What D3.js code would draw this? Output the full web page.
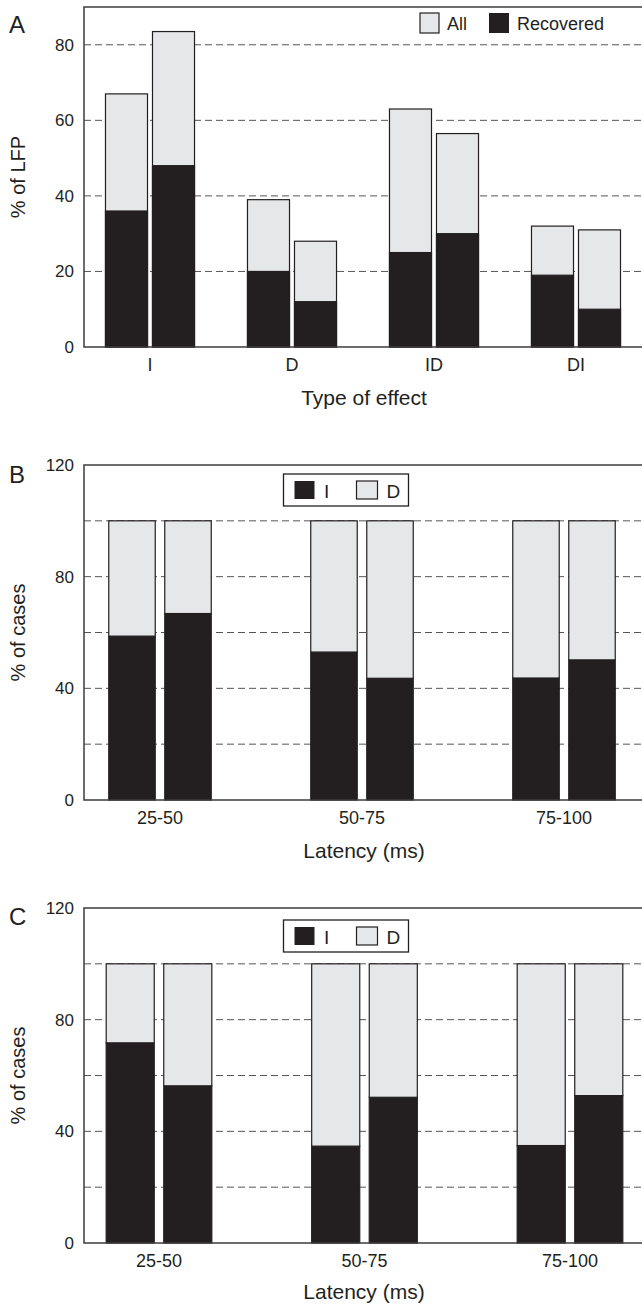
<!DOCTYPE html>
<html>
<head>
<meta charset="utf-8">
<script src="https://cdn.jsdelivr.net/npm/d3@7"></script>
<style>
  body { margin: 0; background: #fff; }
  text { font-family: "Liberation Sans", Arial, sans-serif; fill: #231f20; }
</style>
</head>
<body>
<div id="chart"></div>
<script>
// panel A: two bars per effect type
const effectTypes = ["I", "D", "ID", "DI"];
const lfpAll = [67, 83.5, 39, 28, 63, 56.5, 32, 31];
const lfpRecovered = [36, 48, 20, 12, 25, 30, 19, 10];

// panels B and C: two bars per latency bin
const latencyBins = ["25-50", "50-75", "75-100"];
const casesB_I = [58.7, 66.8, 53, 43.6, 43.7, 50.2];
const casesB_D = [41.3, 33.2, 47, 56.4, 56.3, 49.8];
const casesC_I = [71.7, 56.3, 34.7, 52.2, 34.9, 52.8];
const casesC_D = [28.3, 43.7, 65.3, 47.8, 65.1, 47.2];

const ticksA = [0, 20, 40, 60, 80];
const gridA = [20, 40, 60, 80];
const ticksBC = [0, 40, 80, 120];
const gridBC = [20, 40, 60, 80, 100];

const W = 642, H = 1305;
const DARK = "#231f20", GREY = "#e6e7e8", LINE = "#3c3c3c";
const LEFT = 84;

const svg = d3.select("#chart").append("svg")
  .attr("width", W).attr("height", H);

function drawPanel(p) {
  const g = svg.append("g");

  const y = d3.scaleLinear().domain([0, p.yMax]).range([p.bottom, p.top]);
  const x0 = d3.scaleBand().domain(p.cats).range(p.xRange)
    .paddingInner(p.padIn).paddingOuter(p.padIn / 2);
  const x1 = d3.scaleBand().domain([0, 1]).range([0, x0.bandwidth()])
    .paddingInner(p.padSub);

  // dashed gridlines
  g.append("g")
    .selectAll("line").data(p.grid).join("line")
    .attr("x1", LEFT).attr("x2", W + 5)
    .attr("y1", d => y(d)).attr("y2", d => y(d))
    .attr("stroke", "#555").attr("stroke-width", 1)
    .attr("stroke-dasharray", "7,4");

  // bars: lower segment and upper segment
  const bx = i => x0(p.cats[Math.floor(i / 2)]) + x1(i % 2);
  p.segments.forEach(s => {
    g.append("g")
      .selectAll("rect").data(s.lo).join("rect")
      .attr("x", (d, i) => bx(i))
      .attr("width", x1.bandwidth())
      .attr("y", (d, i) => y(d + s.hi[i]))
      .attr("height", (d, i) => y(d) - y(d + s.hi[i]))
      .attr("fill", s.color)
      .attr("stroke", DARK).attr("stroke-width", 1.2);
  });

  // frame (right side is cut off in the original)
  g.append("path")
    .attr("d", `M${W + 5},${p.top}H${LEFT}V${p.bottom}H${W + 5}`)
    .attr("fill", "none").attr("stroke", LINE).attr("stroke-width", 1.5);

  // y tick labels
  g.append("g")
    .attr("transform", `translate(${LEFT},0)`)
    .call(d3.axisLeft(y).tickValues(p.ticks).tickSize(0).tickPadding(10))
    .call(a => a.select(".domain").remove())
    .selectAll("text")
    .style("font-family", "Liberation Sans, Arial, sans-serif")
    .style("font-size", "17px").attr("fill", DARK);

  // x category labels
  g.append("g")
    .attr("transform", `translate(0,${p.bottom})`)
    .call(d3.axisBottom(x0).tickSize(0).tickPadding(11))
    .call(a => a.select(".domain").remove())
    .selectAll("text")
    .style("font-family", "Liberation Sans, Arial, sans-serif")
    .style("font-size", "18px").attr("fill", DARK);

  // axis titles
  g.append("text")
    .attr("x", 364).attr("y", p.xTitleY)
    .attr("text-anchor", "middle").style("font-size", "21px")
    .text(p.xTitle);
  g.append("text")
    .attr("transform", `translate(25,${(p.top + p.bottom) / 2}) rotate(-90)`)
    .attr("text-anchor", "middle").style("font-size", "20px")
    .text(p.yTitle);

  // panel letter
  g.append("text")
    .attr("x", 9).attr("y", p.letterY)
    .style("font-size", "24px")
    .text(p.letter);

  return g;
}

// ---- Panel A
const gA = drawPanel({
  letter: "A", letterY: 33,
  top: 7, bottom: 347, yMax: 90,
  ticks: ticksA, grid: gridA,
  cats: effectTypes, xRange: [79, 647], padIn: 0.373, padSub: 0.106,
  segments: [
    { lo: lfpAll.map(() => 0), hi: lfpAll, color: GREY },
    { lo: lfpRecovered.map(() => 0), hi: lfpRecovered, color: DARK }
  ],
  xTitle: "Type of effect", xTitleY: 405,
  yTitle: "% of LFP"
});

const legA = gA.append("g");
legA.append("rect").attr("x", 420).attr("y", 13).attr("width", 19).attr("height", 20)
  .attr("fill", GREY).attr("stroke", DARK).attr("stroke-width", 1.2);
legA.append("text").attr("x", 447).attr("y", 30).style("font-size", "18px").text("All");
legA.append("rect").attr("x", 489).attr("y", 13).attr("width", 20).attr("height", 20)
  .attr("fill", DARK);
legA.append("text").attr("x", 517).attr("y", 30).style("font-size", "18px").text("Recovered");

// legend for B / C
function legendID(g, top) {
  g.append("rect").attr("x", 283.5).attr("y", top).attr("width", 125).attr("height", 32)
    .attr("fill", "#fff").attr("stroke", DARK).attr("stroke-width", 1.3);
  g.append("rect").attr("x", 294.5).attr("y", top + 7).attr("width", 20).attr("height", 18)
    .attr("fill", DARK);
  g.append("text").attr("x", 324).attr("y", top + 24).style("font-size", "19px").text("I");
  g.append("rect").attr("x", 356.5).attr("y", top + 7).attr("width", 21).attr("height", 18)
    .attr("fill", GREY).attr("stroke", DARK).attr("stroke-width", 1.2);
  g.append("text").attr("x", 386.5).attr("y", top + 24).style("font-size", "19px").text("D");
}

// ---- Panel B
const gB = drawPanel({
  letter: "B", letterY: 483,
  top: 465, bottom: 800, yMax: 120,
  ticks: ticksBC, grid: gridBC,
  cats: latencyBins, xRange: [59, 665], padIn: 0.4926, padSub: 0.17,
  segments: [
    { lo: casesB_I.map(() => 0), hi: casesB_I, color: DARK },
    { lo: casesB_I, hi: casesB_D, color: GREY }
  ],
  xTitle: "Latency (ms)", xTitleY: 858,
  yTitle: "% of cases"
});
legendID(gB, 474);

// ---- Panel C
const gC = drawPanel({
  letter: "C", letterY: 925,
  top: 908, bottom: 1243, yMax: 120,
  ticks: ticksBC, grid: gridBC,
  cats: latencyBins, xRange: [56.25, 672.75], padIn: 0.486, padSub: 0.165,
  segments: [
    { lo: casesC_I.map(() => 0), hi: casesC_I, color: DARK },
    { lo: casesC_I, hi: casesC_D, color: GREY }
  ],
  xTitle: "Latency (ms)", xTitleY: 1299,
  yTitle: "% of cases"
});
legendID(gC, 920);
</script>
</body>
</html>
